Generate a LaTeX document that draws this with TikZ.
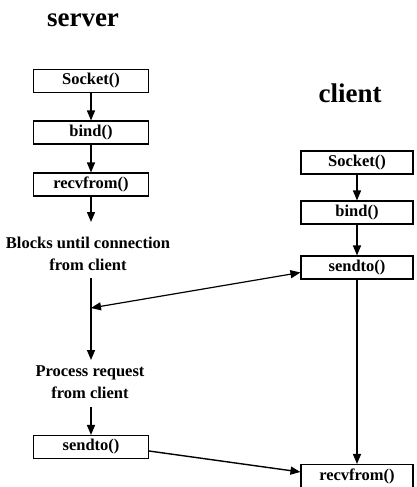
\documentclass[tikz,border=0pt]{standalone}
\usepackage{fontspec}
\setmainfont{Liberation Serif}
\usetikzlibrary{arrows.meta}
\begin{document}
\begin{tikzpicture}[x=1pt,y=-1pt,
  fbox/.style={draw, line width=1.1pt, minimum height=23pt, inner sep=0pt,
    font=\fontsize{16.5}{21.5}\selectfont\bfseries},
  sbox/.style={fbox, minimum width=115pt},
  cbox/.style={fbox, minimum width=112pt},
  lbl/.style={align=center, inner sep=0pt, font=\fontsize{16.5}{21.5}\selectfont\bfseries},
  ttl/.style={inner sep=0pt, anchor=base, font=\fontsize{27}{30}\selectfont\bfseries},
  arr/.style={line width=1.4pt, -{Triangle[length=10pt,width=8pt]}},
  darr/.style={line width=1.2pt, {Triangle[length=10pt,width=8pt]}-{Triangle[length=10pt,width=8pt]}}
]
\useasboundingbox (0,0) rectangle (416,487);
% titles
\node[ttl] (server) at (83,27) {server};
\node[ttl] (client) at (350,102) {client};
% server column
\node[sbox] (ssock) at (91,81) {Socket()};
\node[sbox] (sbind) at (91,132.5) {bind()};
\node[sbox] (srecv) at (91,184.5) {recvfrom()};
\node[lbl, anchor=base] (blocks) at (88,270) {Blocks until connection\\from client};
\node[lbl, anchor=base] (proc) at (90,398) {Process request\\from client};
\node[sbox] (ssend) at (91,447) {sendto()};
\coordinate (blkin) at (91,222);
\coordinate (blkout) at (91,278);
\coordinate (meet) at (91,308);
\coordinate (procin) at (91,360);
\coordinate (procout) at (91,407);
% client column
\node[cbox] (csock) at (357,162.5) {Socket()};
\node[cbox] (cbind) at (357,212.5) {bind()};
\node[cbox] (csend) at (357,267.5) {sendto()};
\node[cbox] (crecv) at (357,476) {recvfrom()};
% connectors
\draw[arr] (ssock) -- (sbind);
\draw[arr] (sbind) -- (srecv);
\draw[arr] (srecv) -- (blkin);
\draw[arr] (blkout) -- (procin);
\draw[arr] (procout) -- (ssend);
\draw[arr] (csock) -- (cbind);
\draw[arr] (cbind) -- (csend);
\draw[arr] (csend) -- (crecv);
\draw[darr] (meet) -- ([yshift=-5pt]csend.west);
\draw[arr] ([yshift=-4pt]ssend.east) -- ([yshift=4pt]crecv.west);
\end{tikzpicture}
\end{document}
